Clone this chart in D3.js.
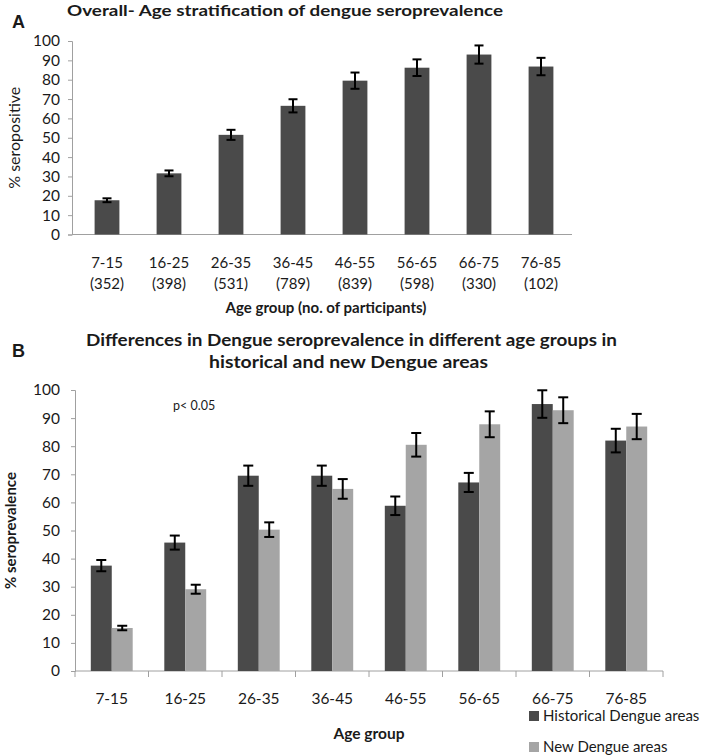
<!DOCTYPE html>
<html>
<head>
<meta charset="utf-8">
<script src="https://cdn.jsdelivr.net/npm/d3@7/dist/d3.min.js"></script>
<style>
  html, body { margin: 0; padding: 0; background: #fff; }
  svg { display: block; }
  text { font-family: Lato, "Open Sans", sans-serif; fill: #1a1a1a; }
</style>
</head>
<body>
<svg id="chart" width="703" height="756"></svg>
<script>
// ---------- DATA ----------
const ageGroups = ["7-15", "16-25", "26-35", "36-45", "46-55", "56-65", "66-75", "76-85"];
const participants = ["(352)", "(398)", "(531)", "(789)", "(839)", "(598)", "(330)", "(102)"];
const overall = [17.7, 31.6, 51.5, 66.5, 79.5, 86.2, 93.0, 86.8];
const overallErr = [1.0, 1.5, 2.6, 3.4, 4.2, 4.3, 4.7, 4.5];
const historical = [37.5, 45.7, 69.5, 69.5, 58.8, 67.1, 95.0, 82.0];
const historicalErr = [2.0, 2.5, 3.6, 3.6, 3.3, 3.4, 4.9, 4.2];
const newAreas = [15.3, 29.1, 50.3, 64.8, 80.5, 87.8, 92.8, 87.0];
const newAreasErr = [0.8, 1.6, 2.6, 3.5, 4.2, 4.6, 4.6, 4.5];
const seriesNames = ["Historical Dengue areas", "New Dengue areas"];
const yTicks = [0, 10, 20, 30, 40, 50, 60, 70, 80, 90, 100];

// ---------- STYLE ----------
const darkCol = "#4a4a4a", lightCol = "#a5a5a5", axisCol = "#a0a0a0";
const svg = d3.select("#chart");

// ================= PANEL A =================
const A = { left: 72, right: 572, top: 41, bottom: 234.5 };
const xA = d3.scaleBand().domain(ageGroups).range([A.left + 4, A.right]).paddingInner(0.6).paddingOuter(0.3);
const yA = d3.scaleLinear().domain([0, 100]).range([A.bottom, A.top]);

svg.append("text").attr("x", 12).attr("y", 28)
  .style("font-family", "'Liberation Sans', Arial, sans-serif").style("font-weight", "bold").style("font-size", "18px")
  .text("A");
svg.append("text").attr("x", 67).attr("y", 16)
  .style("font-weight", "bold").style("font-size", "15px")
  .attr("textLength", 436).attr("lengthAdjust", "spacingAndGlyphs")
  .text("Overall- Age stratification of dengue seroprevalence");

// y axis A
const gyA = svg.append("g").attr("transform", `translate(${A.left},0)`)
  .call(d3.axisLeft(yA).tickValues(yTicks).tickSize(4).tickPadding(8));
gyA.select(".domain").attr("stroke", axisCol);
gyA.selectAll(".tick line").attr("stroke", axisCol);
gyA.selectAll(".tick text").style("font-family", "Lato, sans-serif").style("font-size", "15.5px").attr("fill", "#222");

// x axis A (line only)
svg.append("line").attr("x1", A.left).attr("x2", A.right).attr("y1", A.bottom).attr("y2", A.bottom)
  .attr("stroke", axisCol).attr("stroke-width", 1);

// bars A
svg.append("g").selectAll("rect").data(ageGroups).join("rect")
  .attr("x", d => xA(d)).attr("width", xA.bandwidth())
  .attr("y", (d, i) => yA(overall[i])).attr("height", (d, i) => yA(0) - yA(overall[i]))
  .attr("fill", darkCol);

// error bars A
const capA = 4.5;
const ebA = svg.append("g").attr("stroke", "#000").attr("stroke-width", 2);
ageGroups.forEach((d, i) => {
  const cx = xA(d) + xA.bandwidth() / 2;
  const y1 = yA(overall[i] + overallErr[i]), y2 = yA(overall[i] - overallErr[i]);
  ebA.append("line").attr("x1", cx).attr("x2", cx).attr("y1", y1).attr("y2", y2);
  ebA.append("line").attr("x1", cx - capA).attr("x2", cx + capA).attr("y1", y1).attr("y2", y1);
  ebA.append("line").attr("x1", cx - capA).attr("x2", cx + capA).attr("y1", y2).attr("y2", y2);
});

// x labels A
const xlA = svg.append("g");
ageGroups.forEach((d, i) => {
  const cx = xA(d) + xA.bandwidth() / 2;
  xlA.append("text").attr("x", cx).attr("y", 268).attr("text-anchor", "middle")
    .style("font-size", "15px").attr("fill", "#222").text(d);
  xlA.append("text").attr("x", cx).attr("y", 289).attr("text-anchor", "middle")
    .style("font-size", "15px").attr("fill", "#222").text(participants[i]);
});
svg.append("text").attr("x", 326).attr("y", 313).attr("text-anchor", "middle")
  .style("font-weight", "bold").style("font-size", "15px")
  .text("Age group (no. of participants)");

// y title A
svg.append("text").attr("transform", `translate(20,${(A.top + A.bottom) / 2}) rotate(-90)`)
  .attr("text-anchor", "middle").style("font-size", "16px").attr("fill", "#222")
  .text("% seropositive");

// ================= PANEL B =================
const B = { left: 75, right: 663, top: 390, bottom: 671 };
const x0 = d3.scaleBand().domain(ageGroups).range([B.left, B.right]).paddingInner(0.43).paddingOuter(0.215);
const x1 = d3.scaleBand().domain(seriesNames).range([0, x0.bandwidth()]);
const yB = d3.scaleLinear().domain([0, 100]).range([B.bottom, B.top]);
const colB = d3.scaleOrdinal().domain(seriesNames).range([darkCol, lightCol]);

svg.append("text").attr("x", 12).attr("y", 357)
  .style("font-family", "'Liberation Sans', Arial, sans-serif").style("font-weight", "bold").style("font-size", "18px")
  .text("B");
svg.append("text").attr("x", 86).attr("y", 346)
  .style("font-weight", "bold").style("font-size", "17px")
  .attr("textLength", 531).attr("lengthAdjust", "spacingAndGlyphs")
  .text("Differences in Dengue seroprevalence in different age groups in");
svg.append("text").attr("x", 209).attr("y", 368)
  .style("font-weight", "bold").style("font-size", "17px")
  .attr("textLength", 279).attr("lengthAdjust", "spacingAndGlyphs")
  .text("historical and new Dengue areas");

// y axis B
const gyB = svg.append("g").attr("transform", `translate(${B.left},0)`)
  .call(d3.axisLeft(yB).tickValues(yTicks).tickSize(4).tickPadding(11));
gyB.select(".domain").attr("stroke", axisCol);
gyB.selectAll(".tick line").attr("stroke", axisCol);
gyB.selectAll(".tick text").style("font-family", "Lato, sans-serif").style("font-size", "15.5px").attr("fill", "#222");

// x axis B with ticks at band boundaries
svg.append("line").attr("x1", B.left).attr("x2", B.right).attr("y1", B.bottom).attr("y2", B.bottom)
  .attr("stroke", axisCol);
const bounds = ageGroups.map(d => x0(d) - x0.step() * x0.paddingOuter()).concat([B.right]);
svg.append("g").selectAll("line").data(bounds).join("line")
  .attr("x1", d => d).attr("x2", d => d).attr("y1", B.bottom).attr("y2", B.bottom + 6)
  .attr("stroke", axisCol);

// bars B
const seriesVals = [historical, newAreas];
const seriesErrs = [historicalErr, newAreasErr];
const gB = svg.append("g");
const ebB = svg.append("g").attr("stroke", "#000").attr("stroke-width", 2);
const capB = 5;
seriesNames.forEach((s, si) => {
  ageGroups.forEach((d, i) => {
    const v = seriesVals[si][i], e = seriesErrs[si][i];
    const bx = x0(d) + x1(s);
    gB.append("rect").attr("x", bx).attr("width", x1.bandwidth())
      .attr("y", yB(v)).attr("height", yB(0) - yB(v)).attr("fill", colB(s));
    const cx = bx + x1.bandwidth() / 2;
    const y1 = yB(v + e), y2 = yB(v - e);
    ebB.append("line").attr("x1", cx).attr("x2", cx).attr("y1", y1).attr("y2", y2);
    ebB.append("line").attr("x1", cx - capB).attr("x2", cx + capB).attr("y1", y1).attr("y2", y1);
    ebB.append("line").attr("x1", cx - capB).attr("x2", cx + capB).attr("y1", y2).attr("y2", y2);
  });
});

// x labels B
svg.append("g").selectAll("text").data(ageGroups).join("text")
  .attr("x", d => x0(d) + x0.bandwidth() / 2).attr("y", 704).attr("text-anchor", "middle")
  .style("font-size", "15.5px").attr("fill", "#222").text(d => d);
svg.append("text").attr("x", 369).attr("y", 739).attr("text-anchor", "middle")
  .style("font-weight", "bold").style("font-size", "15.5px").text("Age group");

// y title B
svg.append("text").attr("transform", `translate(16,${(B.top + B.bottom) / 2}) rotate(-90)`)
  .attr("text-anchor", "middle").style("font-weight", "bold").style("font-size", "15px")
  .text("% seroprevalence");

// p-value
svg.append("text").attr("x", 173).attr("y", 410).style("font-size", "12.5px").attr("fill", "#222").text("p< 0.05");

// legend
const leg = svg.append("g");
seriesNames.forEach((s, i) => {
  const ly = 716 + i * 31;
  leg.append("rect").attr("x", 529).attr("y", ly - 5).attr("width", 10).attr("height", 10).attr("fill", colB(s));
  leg.append("text").attr("x", 543).attr("y", ly + 5).style("font-size", "15px").attr("fill", "#222").text(s);
});
</script>
</body>
</html>
